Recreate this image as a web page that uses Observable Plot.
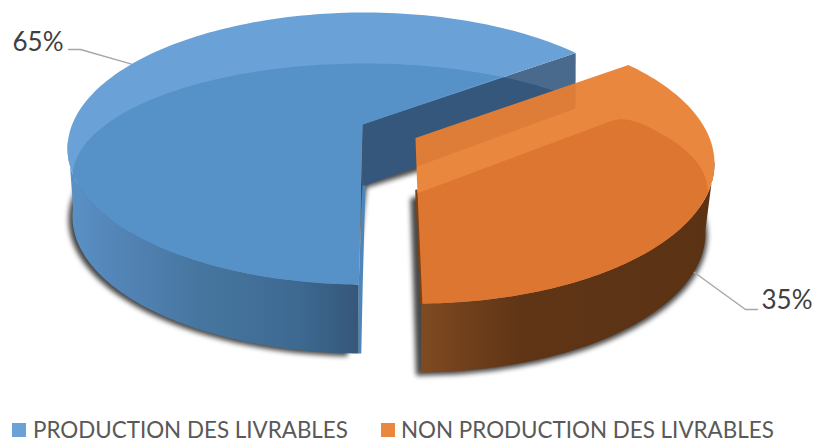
<!DOCTYPE html>
<html lang="fr">
<head>
<meta charset="utf-8">
<script src="https://cdn.jsdelivr.net/npm/d3@7"></script>
<script src="https://cdn.jsdelivr.net/npm/@observablehq/plot@0.6"></script>
<style>
  html, body { margin: 0; padding: 0; background: #fff; }
  #chart { width: 813px; height: 443px; overflow: hidden; font-family: Lato, "Noto Sans", sans-serif; }
  #chart svg { display: block; }
  .legend { position: relative; width: 813px; height: 33px; color: #595959; font-size: 22.4px; line-height: 33px; }
  .legend span { position: absolute; white-space: nowrap; }
  .legend i { position: absolute; top: 13px; width: 14px; height: 14px; }
</style>
</head>
<body>
<div id="chart"></div>
<script>
// Slices of the pie
const categories = ["PRODUCTION DES LIVRABLES", "NON PRODUCTION DES LIVRABLES"];
const shares = [65, 35];

// Face colours per slice
const rimColors = ["#6aa2d7", "#ea873f"];
const faceColors = ["#5691c7", "#dc7631"];
const wallDark = "#35577b";
const wallLight = "#4a6a8d";

const width = 813, height = 410;
const deg = Math.PI / 180;

// Each exploded slice has its own ellipses in perspective.
// "vanish" shifts the projected disc centre towards the back of the ellipse.
const layout = [
  {
    top: {cx: 364, cy: 148, rx: 297, ry: 136},
    inner: {cx: 364, cy: 177, rx: 292, ry: 114},
    bottom: {cx: 364, cy: 216, rx: 292, ry: 137},
    vanish: -0.215, tip: [362, 124], turn: 0,
    elbow: [[80, 49], [68, 49]], label: [12, 42]
  },
  {
    top: {cx: 417, cy: 163, rx: 297, ry: 140},
    inner: {cx: 417, cy: 190, rx: 290, ry: 105},
    bottom: {cx: 417, cy: 232, rx: 288, ry: 140},
    vanish: -0.186, tip: [415, 137.5], turn: -1.5,
    elbow: [[745, 309], [757, 309]], label: [761, 300]
  }
];

// Pie angles, clockwise from twelve o'clock; the first slice starts near the front.
const arcs = d3.pie().sort(null).startAngle(180.9 * deg).endAngle(540.9 * deg)(shares);

// Maps a true disc angle onto the ellipse parameter through the perspective map.
function project(angle, vanish) {
  const u = Math.cos(angle), v = Math.sin(angle);
  const d = 1 + vanish * v;
  return Math.atan2((v + vanish) / d, u * Math.sqrt(1 - vanish * vanish) / d);
}

const at = (el, t) => [el.cx + el.rx * Math.cos(t), el.cy + el.ry * Math.sin(t)];

// Points along an ellipse between two parameters.
function sweep(el, t0, t1, n = 90) {
  return d3.range(n + 1).map((i) => at(el, t0 + (t1 - t0) * i / n));
}

// Ellipse parameters of the two radial edges of each slice.
const slices = arcs.map((a, i) => {
  const L = layout[i];
  const toParam = (x) => project(x - 90 * deg + L.turn * deg, L.vanish);
  return {L, t0: toParam(a.startAngle), t1: toParam(a.endAngle), mid: toParam((a.startAngle + a.endAngle) / 2)};
});

// First slice runs from the back-right edge, round the left, to the front.
const blue = slices[0];
const blueBack = blue.t1;                   // about -45 deg
const blueFront = blue.t0 - 2 * Math.PI;    // about -269 deg
// Second slice runs from the back-right edge, round the right, to the front.
const orange = slices[1];
const orangeBack = orange.t0;
const orangeFront = orange.t1;

const bTop = blue.L.top, bIn = blue.L.inner, bBot = blue.L.bottom;
const oTop = orange.L.top, oIn = orange.L.inner, oBot = orange.L.bottom;

const blueEdgeTop = at(bTop, blueFront);
const blueEdgeBottom = at(bBot, blueFront);

// Where the second slice's back edge crosses the far end of the first slice's wall.
const wallEndX = 575;
const orangeTip = orange.L.tip, orangeCorner = at(oTop, orangeBack);
const crossY = orangeTip[1] + (orangeCorner[1] - orangeTip[1]) * (wallEndX - orangeTip[0]) / (orangeCorner[0] - orangeTip[0]);

const polygons = {
  blueShadow: [[366, 187], ...sweep({...bBot, cy: bBot.cy + 3, rx: bBot.rx + 4}, blueBack, blueFront + 2.2 * deg)],
  orangeShadow: [[410, 198], ...sweep({...oBot, cy: oBot.cy + 3, rx: oBot.rx + 2}, orangeBack, orangeFront + 1 * deg)],
  blueSide: [...sweep(bTop, blueFront, -Math.PI * 0.98), ...sweep(bBot, -Math.PI * 0.98, blueFront)],
  orangeSide: [...sweep(oTop, orangeFront, -0.02), ...sweep(oBot, -0.02, orangeFront)],
  blueRim: [blue.L.tip, ...sweep(bTop, blueBack, blueFront, 160)],
  blueFace: [
    blue.L.tip,
    ...sweep(bIn, -62 * deg, -180 * deg),
    ...sweep(bTop, -193 * deg, blueFront)
  ],
  // thin cut face seen past the front edge of the first slice
  blueCut: [
    [362, 185], [365, 185],
    [blueEdgeTop[0] + 4, blueEdgeTop[1]],
    [blueEdgeBottom[0] + 2.5, blueEdgeBottom[1]],
    blueEdgeBottom, blueEdgeTop
  ],
  wallLight: [blue.L.tip, at(bTop, blueBack), [wallEndX, 108], [362, 186]],
  wallDark: [
    blue.L.tip,
    ...sweep(bIn, -62 * deg, -43.7 * deg, 20),
    [wallEndX, 108], [362, 186]
  ],
  wallThrough: [orangeTip, [wallEndX, crossY], [wallEndX, 108], [orangeTip[0], 166.6]],
  orangeRim: [orangeTip, ...sweep(oTop, orangeBack, orangeFront, 120)],
  orangeFace: [
    [416.5, 193],
    [600, 124.5], [612, 120], [620, 118.5], [629, 119.5],
    ...sweep(oIn, -40 * deg, -0.5 * deg, 40),
    ...sweep(oTop, 11 * deg, orangeFront, 70)
  ]
};

const poly = (pts, options) => Plot.line(pts, {x: (d) => d[0], y: (d) => d[1], strokeWidth: 0, stroke: "none", ...options});

// Horizontal shading of the curved outer walls.
const gradients = () => {
  const defs = d3.create("svg:defs");
  const make = (id, x1, x2, stops) => {
    const g = defs.append("linearGradient").attr("id", id).attr("gradientUnits", "userSpaceOnUse")
      .attr("x1", x1).attr("x2", x2).attr("y1", 0).attr("y2", 0);
    stops.forEach(([o, c]) => g.append("stop").attr("offset", o).attr("stop-color", c));
  };
  make("blueWall", 70, 358, [[0, "#5a92c6"], [0.12, "#5587bb"], [0.45, "#46769f"], [0.78, "#3e6a92"], [1, "#35577a"]]);
  make("orangeWall", 419, 712, [[0, "#804b22"], [0.17, "#6f3f1c"], [0.35, "#5f3516"], [1, "#5b3214"]]);
  return defs.node();
};

// Leader lines start from each slice's mid-angle on the rim.
const leaderPoints = slices.map((s, i) => {
  const el = i === 0 ? s.L.top : s.L.bottom;
  return [at(el, s.mid), ...s.L.elbow];
});

const labels = shares.map((v, i) => ({text: `${v}%`, x: layout[i].label[0], y: layout[i].label[1]}));

const plot = Plot.plot({
  width, height,
  margin: 0,
  x: {domain: [0, width], range: [0, width], axis: null},
  y: {domain: [0, height], range: [0, height], axis: null},
  marks: [
    gradients,
    poly(polygons.blueShadow, {fill: "#000", fillOpacity: 0.72, imageFilter: "blur(2.6px)"}),
    poly(polygons.orangeShadow, {fill: "#000", fillOpacity: 0.72, imageFilter: "blur(2.6px)"}),
    ...leaderPoints.map((pts) => Plot.line(pts, {x: (d) => d[0], y: (d) => d[1], stroke: "#a6a6a6", strokeWidth: 1.4, curve: "linear"})),

    // first slice
    poly(polygons.blueSide, {fill: "url(#blueWall)"}),
    poly(polygons.wallLight, {fill: wallLight}),
    poly(polygons.wallDark, {fill: wallDark}),
    poly(polygons.blueCut, {fill: "#4e86bb"}),
    poly(polygons.blueRim, {fill: rimColors[0]}),
    poly(polygons.blueFace, {fill: faceColors[0]}),

    // second slice
    poly(polygons.orangeSide, {fill: "url(#orangeWall)"}),
    poly(polygons.orangeRim, {fill: rimColors[1]}),
    poly(polygons.orangeFace, {fill: faceColors[1]}),
    Plot.line([[415.8, 190], at(oTop, orangeFront)], {x: (d) => d[0], y: (d) => d[1], stroke: "#7a4219", strokeWidth: 2.2}),

    // the dark wall shows faintly through the second slice
    poly(polygons.wallThrough, {fill: "#8a3f05", fillOpacity: 0.13}),

    Plot.text(labels, {x: "x", y: "y", text: "text", textAnchor: "start", fontSize: 26, fill: "#404040", fontFamily: "Lato, 'Noto Sans', sans-serif"})
  ]
});

const chart = document.getElementById("chart");
chart.append(plot);

// Legend under the pie
const legend = d3.select(chart).append("div").attr("class", "legend");
const squareX = [12, 381], textX = [33, 401];
categories.forEach((name, i) => {
  legend.append("i").style("left", squareX[i] + "px").style("background", rimColors[i]);
  legend.append("span").style("left", textX[i] + "px").style("top", "3px").text(name);
});
</script>
</body>
</html>
